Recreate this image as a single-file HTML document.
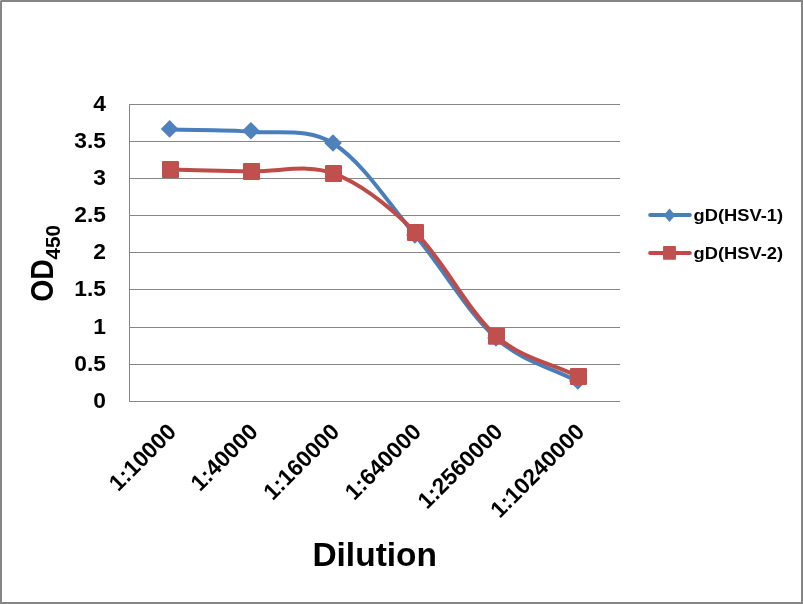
<!DOCTYPE html>
<html lang="en"><head><meta charset="utf-8"><title>ELISA titration chart</title>
<style>html,body{margin:0;padding:0;background:#fff;overflow:hidden}svg{display:block}text{font-family:"Liberation Sans",sans-serif;font-weight:bold;fill:#000}</style></head><body>
<svg width="803" height="604" viewBox="0 0 803 604">
<rect x="0" y="0" width="803" height="604" fill="#fff"/>
<rect x="1" y="1" width="801" height="602" fill="none" stroke="#868686" stroke-width="2" shape-rendering="crispEdges"/>
<rect x="0" y="0" width="1" height="1" fill="#c2c2c2"/>
<g fill="#868686" shape-rendering="crispEdges">
<rect x="129" y="104" width="491" height="1"/>
<rect x="129" y="141" width="491" height="1"/>
<rect x="129" y="178" width="491" height="1"/>
<rect x="129" y="215" width="491" height="1"/>
<rect x="129" y="252" width="491" height="1"/>
<rect x="129" y="289" width="491" height="1"/>
<rect x="129" y="327" width="491" height="1"/>
<rect x="129" y="364" width="491" height="1"/>
<rect x="129" y="401" width="491" height="1"/>
<rect x="129" y="104" width="1" height="298"/>
</g>
<g font-size="22.8" text-anchor="end">
<text x="106" y="110.80">4</text>
<text x="106" y="147.88">3.5</text>
<text x="106" y="184.95">3</text>
<text x="106" y="222.03">2.5</text>
<text x="106" y="259.10">2</text>
<text x="106" y="296.17">1.5</text>
<text x="106" y="334.25">1</text>
<text x="106" y="371.32">0.5</text>
<text x="106" y="408.40">0</text>
</g>
<g font-size="22.8" text-anchor="end">
<text transform="translate(177.50,433.00) rotate(-45)">1:10000</text>
<text transform="translate(259.14,433.00) rotate(-45)">1:40000</text>
<text transform="translate(340.78,433.00) rotate(-45)">1:160000</text>
<text transform="translate(422.42,433.00) rotate(-45)">1:640000</text>
<text transform="translate(504.06,433.00) rotate(-45)">1:2560000</text>
<text transform="translate(585.70,433.00) rotate(-45)">1:10240000</text>
</g>
<path d="M170.40,129.60 C197.50,130.33 224.56,129.46 251.70,131.80 C278.99,134.16 307.99,127.40 333.70,143.70 C362.62,162.03 388.67,203.51 415.60,235.70 C443.04,268.51 468.23,313.10 496.80,338.70 C522.53,361.76 551.27,367.37 578.50,381.70" fill="none" stroke="#4A7EBB" stroke-width="4" stroke-linecap="round" stroke-linejoin="round"/>
<path d="M160.80,128.90 L169.60,120.10 L178.40,128.90 L169.60,137.70 Z" fill="#4F81BD"/>
<path d="M242.10,130.80 L250.90,122.00 L259.70,130.80 L250.90,139.60 Z" fill="#4F81BD"/>
<path d="M324.20,143.00 L333.00,134.20 L341.80,143.00 L333.00,151.80 Z" fill="#4F81BD"/>
<path d="M406.10,235.00 L414.90,226.20 L423.70,235.00 L414.90,243.80 Z" fill="#4F81BD"/>
<path d="M487.20,338.00 L496.00,329.20 L504.80,338.00 L496.00,346.80 Z" fill="#4F81BD"/>
<path d="M569.00,381.00 L577.80,372.20 L586.60,381.00 L577.80,389.80 Z" fill="#4F81BD"/>
<path d="M170.50,169.60 C197.50,170.20 224.38,170.77 251.50,171.40 C278.72,172.03 307.02,163.55 333.50,173.40 C361.68,183.88 389.41,206.34 415.50,232.40 C443.74,260.61 467.86,310.88 496.50,336.20 C522.19,358.91 551.17,363.07 578.50,376.50" fill="none" stroke="#BE4B48" stroke-width="4" stroke-linecap="round" stroke-linejoin="round"/>
<rect x="162.00" y="161.10" width="17.00" height="17.00" rx="1" fill="#C0504D"/>
<rect x="243.00" y="162.90" width="17.00" height="17.00" rx="1" fill="#C0504D"/>
<rect x="325.00" y="164.90" width="17.00" height="17.00" rx="1" fill="#C0504D"/>
<rect x="407.00" y="223.90" width="17.00" height="17.00" rx="1" fill="#C0504D"/>
<rect x="488.00" y="327.70" width="17.00" height="17.00" rx="1" fill="#C0504D"/>
<rect x="570.00" y="368.00" width="17.00" height="17.00" rx="1" fill="#C0504D"/>
<line x1="650.1" y1="215" x2="689.9" y2="215" stroke="#4A7EBB" stroke-width="3.8" stroke-linecap="round"/>
<path d="M663.70,215.30 L669.50,208.50 L675.30,215.30 L669.50,222.10 Z" fill="#4F81BD"/>
<line x1="650.1" y1="253" x2="689.9" y2="253" stroke="#BE4B48" stroke-width="3.8" stroke-linecap="round"/>
<rect x="663.05" y="246.1" width="12.9" height="13.75" rx="0.8" fill="#C0504D"/>
<text x="693.6" y="220.6" font-size="17.4" textLength="89.4" lengthAdjust="spacingAndGlyphs">gD(HSV-1)</text>
<text x="693.6" y="259.0" font-size="17.4" textLength="89.4" lengthAdjust="spacingAndGlyphs">gD(HSV-2)</text>
<text x="312.4" y="566.1" font-size="32.6" textLength="124.6" lengthAdjust="spacingAndGlyphs">Dilution</text>
<text transform="translate(53.3,301.8) rotate(-90)" font-size="30.6" textLength="42.7" lengthAdjust="spacingAndGlyphs">OD</text>
<text transform="translate(60.2,259.5) rotate(-90)" font-size="19.8" textLength="34.4" lengthAdjust="spacingAndGlyphs">450</text>
</svg></body></html>
